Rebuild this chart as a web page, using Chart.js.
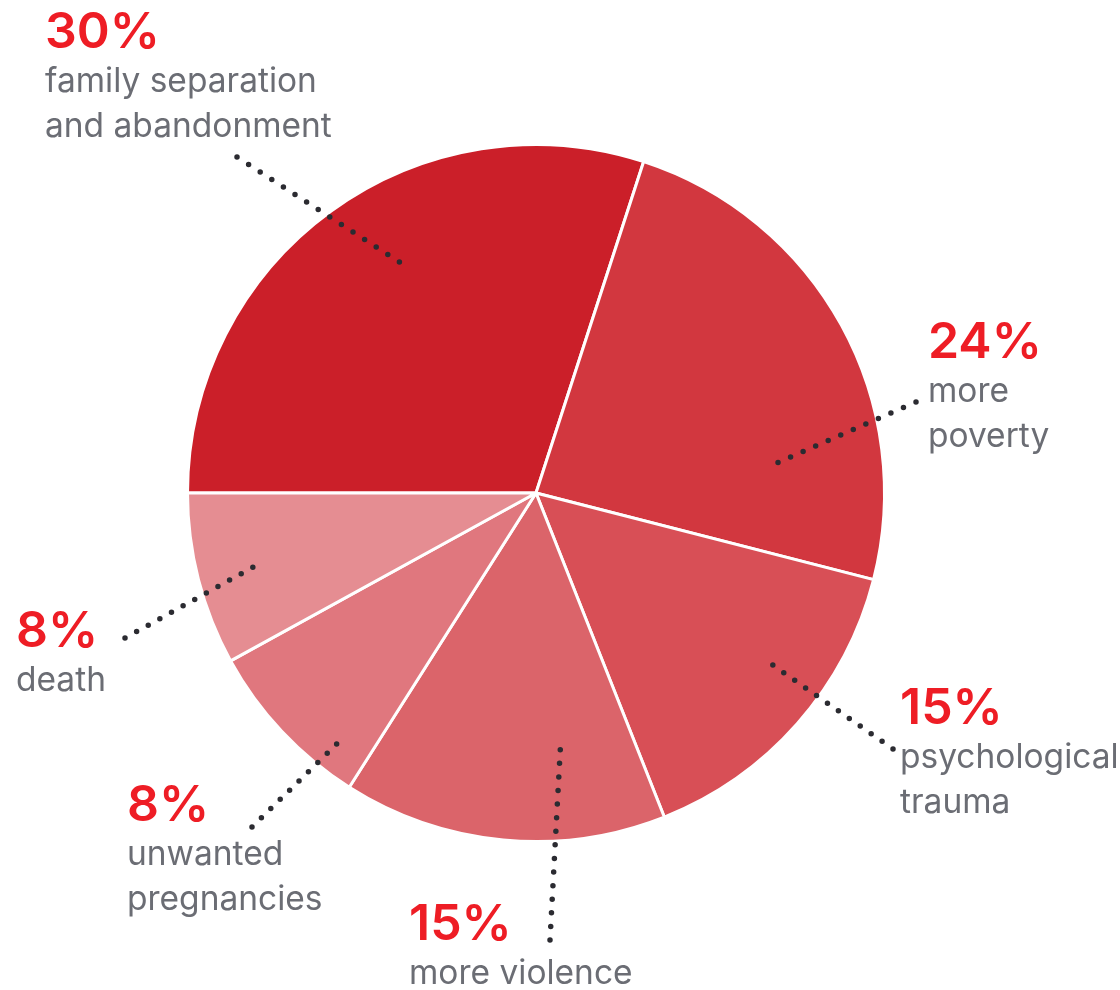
<!DOCTYPE html>
<html>
<head>
<meta charset="utf-8">
<title>Consequences</title>
<script src="https://cdn.jsdelivr.net/npm/chart.js@4.4.0/dist/chart.umd.min.js"></script>
<style>
  html, body { margin: 0; padding: 0; background: #fff; }
  #wrap { width: 1120px; height: 990px; }
</style>
</head>
<body>
<div id="wrap"><canvas id="pie" width="1120" height="990"></canvas></div>
<script>
// slices, clockwise from 9 o'clock
const categories = [
  'family separation and abandonment',
  'more poverty',
  'psychological trauma',
  'more violence',
  'unwanted pregnancies',
  'death'
];
const shares = [30, 24, 15, 15, 8, 8];
const captionLines = [
  ['family separation', 'and abandonment'],
  ['more', 'poverty'],
  ['psychological', 'trauma'],
  ['more violence'],
  ['unwanted', 'pregnancies'],
  ['death']
];
const sliceColors = ['#CB1F29', '#D2373F', '#D84F56', '#DB646A', '#E0777E', '#E58D92'];

// where each caption sits and where its dotted leader runs
// t = position across the slice (0..1), r = fraction of radius
const callouts = [
  { x: 45,  y: 48,  t: 0.55, r: 0.77, ex: 237, ey: 157 },
  { x: 928, y: 358, t: 0.75, r: 0.70, ex: 916, ey: 402 },
  { x: 900, y: 724, t: 0.40, r: 0.84, ex: 893, ey: 749 },
  { x: 409, y: 940, t: 0.30, r: 0.74, ex: 550, ey: 940 },
  { x: 127, y: 821, t: 0.21, r: 0.92, ex: 252, ey: 827 },
  { x: 16,  y: 647, t: 0.49, r: 0.84, ex: 125, ey: 638 }
];

const calloutPlugin = {
  id: 'callouts',
  afterDraw(chart) {
    const ctx = chart.ctx;
    const arcs = chart.getDatasetMeta(0).data;
    ctx.save();
    arcs.forEach((arc, i) => {
      const c = callouts[i];
      const a = arc.startAngle + c.t * (arc.endAngle - arc.startAngle);
      const sx = arc.x + Math.cos(a) * c.r * arc.outerRadius;
      const sy = arc.y + Math.sin(a) * c.r * arc.outerRadius;

      // dotted leader, spaced so a dot lands on both ends
      const len = Math.hypot(c.ex - sx, c.ey - sy);
      const gap = len / Math.max(1, Math.round(len / 13.7));
      ctx.beginPath();
      ctx.strokeStyle = '#2B2B31';
      ctx.lineWidth = 5.5;
      ctx.lineCap = 'round';
      ctx.setLineDash([0, gap]);
      ctx.moveTo(sx, sy);
      ctx.lineTo(c.ex + (c.ex - sx) / len * 0.5, c.ey + (c.ey - sy) / len * 0.5);
      ctx.stroke();
      ctx.setLineDash([]);

      // percentage
      ctx.textAlign = 'left';
      ctx.textBaseline = 'alphabetic';
      ctx.fillStyle = '#EE1D25';
      ctx.font = '600 50px Inter';
      ctx.fillText(shares[i] + '%', c.x, c.y);

      // caption
      ctx.fillStyle = '#6B6D74';
      ctx.font = '33.5px Inter';
      captionLines[i].forEach((line, k) => {
        ctx.fillText(line, c.x, c.y + 44 + k * 45);
      });
    });
    ctx.restore();
  }
};

new Chart(document.getElementById('pie').getContext('2d'), {
  type: 'pie',
  data: {
    labels: categories,
    datasets: [{
      data: shares,
      backgroundColor: sliceColors,
      borderColor: '#ffffff',
      borderWidth: 3
    }]
  },
  options: {
    responsive: false,
    animation: false,
    rotation: -90,
    layout: { padding: { left: 186, top: 143, right: 234, bottom: 147 } },
    plugins: {
      legend: { display: false },
      tooltip: { enabled: false }
    }
  },
  plugins: [calloutPlugin]
});
</script>
</body>
</html>
